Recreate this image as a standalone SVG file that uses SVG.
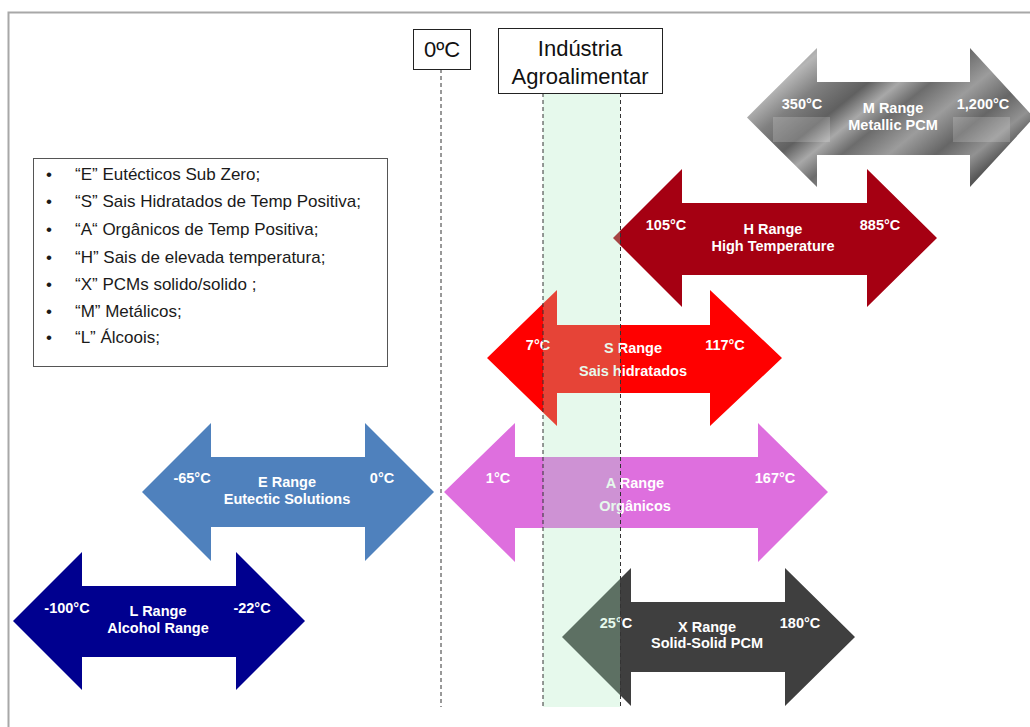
<svg xmlns="http://www.w3.org/2000/svg" width="1030" height="727" viewBox="0 0 1030 727">
<style>
.lbl{font-family:"Liberation Sans",Arial,sans-serif;font-size:14.5px;font-weight:bold;fill:#ffffff;text-anchor:middle}
.leg{font-family:"Liberation Sans",Arial,sans-serif;font-size:17px;fill:#1a1a1a}
.box{fill:#ffffff;stroke:#222222;stroke-width:1}
.btxt{font-family:"Liberation Sans",Arial,sans-serif;font-size:22px;fill:#111111;text-anchor:middle}
.dash{stroke:#333333;stroke-width:1;stroke-dasharray:4 3;fill:none}
</style>
<defs>
<linearGradient id="metal" x1="0" y1="0" x2="1" y2="0.6">
<stop offset="0" stop-color="#666666"/>
<stop offset="0.12" stop-color="#8e8e8e"/>
<stop offset="0.2" stop-color="#b6b6b6"/>
<stop offset="0.3" stop-color="#808080"/>
<stop offset="0.42" stop-color="#606060"/>
<stop offset="0.5" stop-color="#a8a8a8"/>
<stop offset="0.58" stop-color="#6c6c6c"/>
<stop offset="0.7" stop-color="#9c9c9c"/>
<stop offset="0.82" stop-color="#666666"/>
<stop offset="0.92" stop-color="#929292"/>
<stop offset="1" stop-color="#565656"/>
</linearGradient>
</defs>
<rect x="0" y="0" width="1030" height="727" fill="#ffffff"/>
<path d="M8.5 727 V12.5 H1030" fill="none" stroke="#a8a8a8" stroke-width="2"/>

<g id="node-M">
<path d="M747 117.5 L817 48 L817 82 L970 82 L970 48 L1034 117.5 L970 187 L970 155 L817 155 L817 187 Z" fill="url(#metal)"/>
<rect x="773" y="117" width="57" height="25" fill="#ffffff" opacity="0.18"/>
<rect x="953" y="117" width="57" height="25" fill="#ffffff" opacity="0.18"/>
<text class="lbl" x="802" y="109">350°C</text>
<text class="lbl" x="893" y="113">M Range</text>
<text class="lbl" x="893" y="130">Metallic PCM</text>
<text class="lbl" x="983" y="109">1,200°C</text>
</g>

<g id="node-H">
<path d="M613 238 L682 169 L682 203 L867 203 L867 169 L937 238 L867 307 L867 275 L682 275 L682 307 Z" fill="#a50012"/>
<text class="lbl" x="666" y="230">105°C</text>
<text class="lbl" x="773" y="234">H Range</text>
<text class="lbl" x="773" y="251">High Temperature</text>
<text class="lbl" x="880" y="230">885°C</text>
</g>

<g id="node-S">
<path d="M487 358 L557 290 L557 325 L710 325 L710 290 L782 358 L710 426 L710 393 L557 393 L557 426 Z" fill="#ff0000"/>
<text class="lbl" x="538" y="350">7°C</text>
<text class="lbl" x="633" y="353">S Range</text>
<text class="lbl" x="633" y="376">Sais hidratados</text>
<text class="lbl" x="725" y="350">117°C</text>
</g>

<g id="node-A">
<path d="M444 492 L515 423 L515 457 L758 457 L758 423 L828 492 L758 562 L758 528 L515 528 L515 562 Z" fill="#de6fde"/>
<text class="lbl" x="498" y="483">1°C</text>
<text class="lbl" x="635" y="488">A Range</text>
<text class="lbl" x="635" y="511">Orgânicos</text>
<text class="lbl" x="775" y="483">167°C</text>
</g>

<g id="node-E">
<path d="M142 492 L211 423 L211 457 L365 457 L365 423 L434 492 L365 561 L365 527 L211 527 L211 561 Z" fill="#4f81bd"/>
<text class="lbl" x="192" y="483">-65°C</text>
<text class="lbl" x="287" y="487">E Range</text>
<text class="lbl" x="287" y="504">Eutectic Solutions</text>
<text class="lbl" x="382" y="483">0°C</text>
</g>

<g id="node-L">
<path d="M13 621 L82 552 L82 586 L236 586 L236 552 L305 621 L236 690 L236 657 L82 657 L82 690 Z" fill="#00008f"/>
<text class="lbl" x="67" y="613">-100°C</text>
<text class="lbl" x="158" y="616">L Range</text>
<text class="lbl" x="158" y="633">Alcohol Range</text>
<text class="lbl" x="252" y="613">-22°C</text>
</g>

<g id="node-X">
<path d="M562 637 L631 568 L631 602 L785 602 L785 568 L855 637 L785 706 L785 672 L631 672 L631 706 Z" fill="#3f3f3f"/>
<text class="lbl" x="616" y="628">25°C</text>
<text class="lbl" x="707" y="632">X Range</text>
<text class="lbl" x="707" y="648">Solid-Solid PCM</text>
<text class="lbl" x="800" y="628">180°C</text>
</g>

<g id="node-band">
<rect x="543" y="93" width="77" height="614" fill="#a9eabe" opacity="0.29"/>
</g>

<g id="connectors">
<line class="dash" x1="441" y1="69" x2="441" y2="707"/>
<line class="dash" x1="543" y1="93" x2="543" y2="707"/>
<line class="dash" x1="620.5" y1="93" x2="620.5" y2="707"/>
</g>

<g id="node-zero">
<rect class="box" x="413.5" y="29.5" width="57" height="40"/>
<text class="btxt" x="442" y="57">0ºC</text>
</g>

<g id="node-industria">
<rect class="box" x="498.5" y="28.5" width="164" height="65"/>
<text class="btxt" x="580" y="56">Indústria</text>
<text class="btxt" x="580" y="84">Agroalimentar</text>
</g>

<g id="node-legend">
<rect x="33.5" y="158.5" width="354" height="208" fill="#ffffff" stroke="#555555" stroke-width="1"/>
<text class="leg" x="46" y="180">•</text>
<text class="leg" x="75" y="180">“E” Eutécticos Sub Zero;</text>
<text class="leg" x="46" y="207">•</text>
<text class="leg" x="75" y="207">“S” Sais Hidratados de Temp Positiva;</text>
<text class="leg" x="46" y="235">•</text>
<text class="leg" x="75" y="235">“A“ Orgânicos de Temp Positiva;</text>
<text class="leg" x="46" y="263">•</text>
<text class="leg" x="75" y="263">“H” Sais de elevada temperatura;</text>
<text class="leg" x="46" y="290">•</text>
<text class="leg" x="75" y="290">“X” PCMs solido/solido ;</text>
<text class="leg" x="46" y="317">•</text>
<text class="leg" x="75" y="317">“M”  Metálicos;</text>
<text class="leg" x="46" y="343">•</text>
<text class="leg" x="75" y="343">“L” Álcoois;</text>
</g>
</svg>
